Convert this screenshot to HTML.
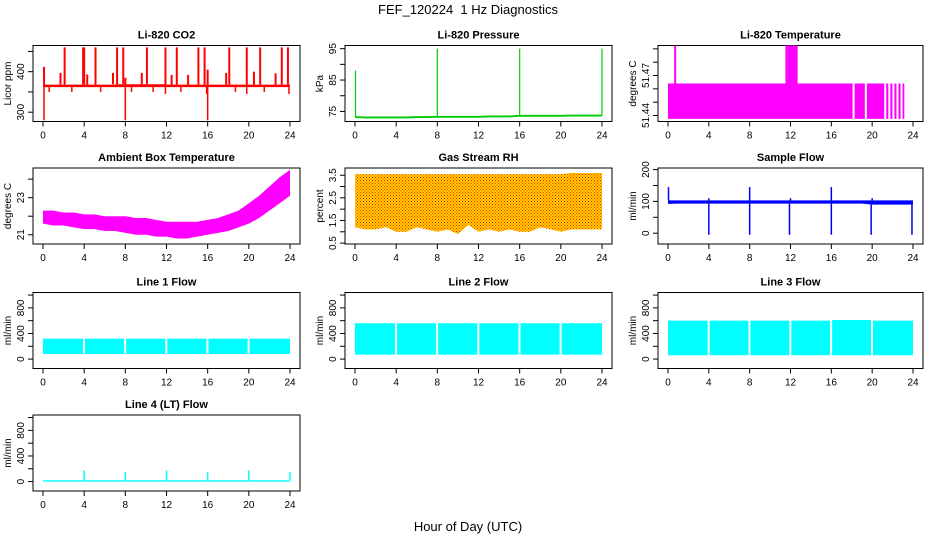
<!DOCTYPE html>
<html><head><meta charset="utf-8"><style>
html,body{margin:0;padding:0;background:#fff}
svg{display:block;font-family:"Liberation Sans",sans-serif}
</style></head><body>
<svg id="chart" width="936" height="540" viewBox="0 0 936 540" xmlns="http://www.w3.org/2000/svg">
<defs>
<pattern id="rhpat" width="3" height="3" patternUnits="userSpaceOnUse">
<rect width="3" height="3" fill="#ffd200"/><rect x="0" y="0" width="1" height="1" fill="#ff2000"/><rect x="1.5" y="1.5" width="1" height="1" fill="#ff2000"/>
</pattern>
</defs>
<text x="468" y="14" text-anchor="middle" font-size="13">FEF_120224&#160; 1 Hz Diagnostics</text>
<text x="468" y="531" text-anchor="middle" font-size="13">Hour of Day (UTC)</text>
</svg>
<script>
const hours = [0,1,2,3,4,5,6,7,8,9,10,11,12,13,14,15,16,17,18,19,20,21,22,23,24];
const xTicks = [0,4,8,12,16,20,24];
// CO2
const co2Lo = [362,362,362,362,362,362,362,362,362,362,362,362,362,362,362,362,362,362,362,362,362,362,362,362,362];
const co2Hi = [368,368,368,368,368,368,368,369,369,369,369,369,368,368,368,368,368,368,368,368,368,368,368,368,368];
const co2SpikeH = [0.1,2.1,3.9,4.0,5.1,7.2,7.8,8.0,10.1,11.9,13.0,15.1,15.7,16.0,18.1,19.8,21.1,23.2,23.8,1.7,4.3,6.8,9.6,12.5,14.1,17.8,20.5,22.6];
const co2SpikeV = [412,460,460,460,460,460,460,385,460,460,460,460,460,405,460,460,460,460,460,397,393,397,397,392,392,397,400,396];
const co2DipH = [0.1,8.0,16.0,0.6,2.8,5.6,8.6,10.7,11.9,13.4,15.9,18.7,19.8,21.5,23.9];
const co2DipV = [280,280,280,350,350,350,350,350,345,350,345,350,345,350,345];
// Pressure
const presBase = [73.2,73.1,73.1,73.1,73.1,73.1,73.2,73.2,73.3,73.3,73.3,73.3,73.3,73.4,73.4,73.4,73.6,73.6,73.6,73.6,73.6,73.7,73.7,73.7,73.7];
const presSpikeH = [0.05,8.0,16.0,24.0];
const presSpikeV = [88,95,95,95];
// Li-820 temperature
const tLo = [51.4375,51.4375,51.4375,51.4375,51.4375,51.4375,51.4375,51.4375,51.4375,51.4375,51.4375,51.4375,51.4375,51.4375,51.4375,51.4375,51.4375,51.4375,51.4375,51.4375,51.4375,51.4375,51.4375,51.4375];
const tHi = [51.464,51.464,51.464,51.464,51.464,51.464,51.464,51.464,51.464,51.464,51.464,51.464,51.464,51.464,51.464,51.464,51.464,51.464,51.464,51.464,51.464,51.464,51.464,51.464];
const tSpikeH = [0.7,11.6,11.8,11.9,12.0,12.1,12.2,12.3,12.4,12.5,12.6];
const tSpikeV = [51.4925,51.4925,51.4925,51.4925,51.4925,51.4925,51.4925,51.4925,51.4925,51.4925,51.4925];
// Ambient box temperature
const ambLo = [21.6,21.5,21.5,21.4,21.3,21.3,21.2,21.2,21.1,21.0,21.0,20.9,20.9,20.8,20.8,20.9,21.0,21.1,21.2,21.4,21.6,21.9,22.3,22.7,23.1];
const ambHi = [22.3,22.3,22.2,22.2,22.1,22.1,22.0,22.0,22.0,21.9,21.9,21.8,21.7,21.7,21.7,21.7,21.8,21.9,22.1,22.3,22.7,23.1,23.6,24.1,24.5];
// Gas stream RH
const rhLo = [1.2,1.1,1.1,1.2,1.0,1.0,1.2,1.1,1.0,1.1,0.9,1.3,1.0,1.1,1.0,1.1,1.0,1.0,1.2,1.1,1.0,1.1,1.1,1.1,1.1];
const rhHi = [3.55,3.55,3.55,3.55,3.55,3.55,3.55,3.55,3.55,3.55,3.55,3.55,3.55,3.55,3.55,3.55,3.55,3.55,3.55,3.55,3.55,3.6,3.6,3.6,3.6];
// Sample flow
const sfLo = [92,93,93,93,93,93,93,93,93,93,93,93,93,93,93,93,93,93,93,93,90,90,90,90,90];
const sfHi = [103,103,103,103,103,103,103,103,103,103,103,103,103,103,103,103,103,103,103,103,103,103,103,103,103];
const sfSpikeH = [0.05,8.0,16.0,4.0,12.0,20.0];
const sfSpikeV = [145,145,145,110,110,110];
const sfDipH = [4.0,8.0,11.9,16.0,19.9,23.9];
const sfDipV = [-5,-5,-5,-5,-5,-5];
// Line flows
const l1Lo = [80,80,80,80,80,80,80,80,80,80,80,80,80,80,80,80,80,80,80,80,80,80,80,80,80];
const l1Hi = [320,320,320,320,320,320,320,320,320,320,320,320,320,320,320,320,320,320,320,320,320,320,320,320,270];
const l2Lo = [70,70,70,70,70,70,70,70,70,70,70,70,70,70,70,70,70,70,70,70,70,70,70,70,380];
const l2Hi = [560,560,560,560,560,560,560,560,560,560,560,560,560,560,560,560,560,560,560,560,560,560,560,560,500];
const l3Lo = [60,60,60,60,60,60,60,60,60,60,60,60,60,60,60,60,60,60,60,60,60,60,60,60,300];
const l3Hi = [600,600,600,600,600,600,600,600,600,600,600,600,600,600,600,600,610,610,610,610,600,600,600,600,420];
const l4Lo = [0,0,0,0,0,0,0,0,0,0,0,0,0,0,0,0,0,0,0,0,0,0,0,0,0];
const l4Hi = [20,20,20,20,20,20,20,20,20,20,20,20,20,20,20,20,20,20,20,20,20,20,20,20,20];
const l4SpikeH = [4,8,12,16,20,24];
const l4SpikeV = [175,145,175,145,175,145];
const gapHours = [4,8,12,16,20];

const NS = "http://www.w3.org/2000/svg";
const svg = document.getElementById('chart');
function mk(tag, attrs, parent){
  const e = document.createElementNS(NS, tag);
  for (const k in attrs) e.setAttribute(k, attrs[k]);
  (parent||svg).appendChild(e);
  return e;
}
const colX0 = [43,355,668], colX1 = [290,602,913];
const rowTop = [45.5,168,292.5,415];
const boxH = 76;

function panel(name,col,row,ymin,ymax,ticks,labels,title,ylab){
  const x0=colX0[col], x1=colX1[col];
  const top=rowTop[row], bot=top+boxH;
  const g = mk('g',{});
  
  
  const xs = h => x0 + (x1-x0)*h/24;
  const ys = v => bot - (v-ymin)/(ymax-ymin)*boxH;
  const box = mk('rect',{x:x0-10,y:top,width:(x1-x0)+20,height:boxH,fill:'none',stroke:'#000','stroke-width':1},g);
  
  
  const t = mk('text',{x:(x0+x1)/2,y:top-7,'text-anchor':'middle','font-size':11,'font-weight':'bold'},g);
  t.textContent = title;
  
  
  const xa = mk('g',{},g);
  
  
  xTicks.forEach(h=>{
    mk('line',{x1:xs(h),x2:xs(h),y1:bot,y2:bot+5,stroke:'#000'},xa);
    const l = mk('text',{x:xs(h),y:bot+17,'text-anchor':'middle','font-size':10},xa);
    l.textContent = h;
    
    
  });
  const ya = mk('g',{},g);
  
  
  const bx = x0-10;
  ticks.forEach(v=>{
    mk('line',{x1:bx,x2:bx-5,y1:ys(v),y2:ys(v),stroke:'#000'},ya);
  });
  labels.forEach(v=>{
    const l = mk('text',{x:0,y:0,'text-anchor':'middle','font-size':10,transform:`translate(${bx-9},${ys(v)}) rotate(-90)`},ya);
    l.textContent = v;
    
    
  });
  const yl = mk('text',{x:0,y:0,'text-anchor':'middle','font-size':10,transform:`translate(${bx-22},${(top+bot)/2}) rotate(-90)`},g);
  yl.textContent = ylab;
  
  
  const data = mk('g',{},g);
  
  
  return {xs,ys,g:data};
}
function band(p,lo,hi,fill,gaps,linear){
  let ptsT=[],ptsB=[];
  const n = lo.length;
  for(let i=0;i<n;i++){
    const h0 = hours[i];
    if (linear){
      ptsT.push([p.xs(h0),p.ys(hi[i])]);
      ptsB.push([p.xs(h0),p.ys(lo[i])]);
    } else {
      const xa = p.xs(h0), xb = p.xs(i===n-1? Math.min(h0+0.15,24):Math.min(h0+1,24));
      ptsT.push([xa,p.ys(hi[i])],[xb,p.ys(hi[i])]);
      ptsB.push([xa,p.ys(lo[i])],[xb,p.ys(lo[i])]);
    }
  }
  const pts = ptsT.concat(ptsB.reverse()).map(a=>a.join(',')).join(' ');
  const poly = mk('polygon',{points:pts,fill:fill,stroke:'none'},p.g);
  
  
  (gaps||[]).forEach(h=>{
    const r = mk('rect',{x:p.xs(h)-1.2,y:p.ys(hi[0])-2,width:2,height:p.ys(lo[0])-p.ys(hi[0])+4,fill:'#fff'},p.g);
    
    
  });
}
function spikes(p,hs,vs,base,color,w){
  hs.forEach((h,i)=>{
    const l = mk('line',{x1:p.xs(h),x2:p.xs(h),y1:p.ys(base[Math.min(Math.round(h),base.length-1)]),y2:p.ys(vs[i]),stroke:color,'stroke-width':w||1.5},p.g);
    
    
  });
}

// Row 1
let p = panel('co2',0,0,277,464.6,[300,350,400,450],[300,400],'Li-820 CO2','Licor ppm');
band(p,co2Lo,co2Hi,'#ff0000');
spikes(p,co2SpikeH,co2SpikeV,co2Hi,'#ff0000',2);
spikes(p,co2DipH,co2DipV,co2Lo,'#ff0000',1.5);

p = panel('pressure',1,0,71.8,96,[75,80,85,90,95],[75,85,95],'Li-820 Pressure','kPa');
const pl = presBase.map(v=>v-0.3), ph = presBase.map(v=>v+0.3);
band(p,pl,ph,'#00cc00',[],true);
spikes(p,presSpikeH,presSpikeV,presBase,'#00cc00',1.2);

p = panel('li820-temp',2,0,51.4355,51.4925,[51.44,51.45,51.46,51.47,51.48,51.49],[51.44,51.47],'Li-820 Temperature','degrees C');
band(p,tLo,tHi,'#ff00ff',[18.2,19.4,21.3,21.7,22.1,22.5,22.9,23.3,23.7]);
spikes(p,tSpikeH,tSpikeV,tHi,'#ff00ff',2);

// Row 2
p = panel('ambient-temp',0,1,20.5,24.6,[21,22,23,24],[21,23],'Ambient Box Temperature','degrees C');
band(p,ambLo,ambHi,'#ff00ff',[],true);

p = panel('rh',1,1,0.46,3.82,[0.5,1,1.5,2,2.5,3,3.5],[0.5,1.5,2.5,3.5],'Gas Stream RH','percent');
band(p,rhLo,rhHi,'url(#rhpat)',[],true);

p = panel('sample-flow',2,1,-34,205,[0,50,100,150,200],[0,100,200],'Sample Flow','ml/min');
band(p,sfLo,sfHi,'#0000ff',[],true);
spikes(p,sfSpikeH,sfSpikeV,sfHi,'#0000ff',1.5);
spikes(p,sfDipH,sfDipV,sfLo,'#0000ff',1.5);

// Row 3
const fT=[0,200,400,600,800,1000], fL=[0,400,800];
p = panel('line1-flow',0,2,-147,1040,fT,fL,'Line 1 Flow','ml/min');
band(p,l1Lo,l1Hi,'#00ffff',gapHours);
p = panel('line2-flow',1,2,-147,1040,fT,fL,'Line 2 Flow','ml/min');
band(p,l2Lo,l2Hi,'#00ffff',gapHours);
p = panel('line3-flow',2,2,-147,1040,fT,fL,'Line 3 Flow','ml/min');
band(p,l3Lo,l3Hi,'#00ffff',gapHours);
// Row 4
p = panel('line4-flow',0,3,-147,1040,fT,fL,'Line 4 (LT) Flow','ml/min');
band(p,l4Lo,l4Hi,'#00ffff');
spikes(p,l4SpikeH,l4SpikeV,l4Hi,'#00ffff',1.5);
</script>
</body></html>
